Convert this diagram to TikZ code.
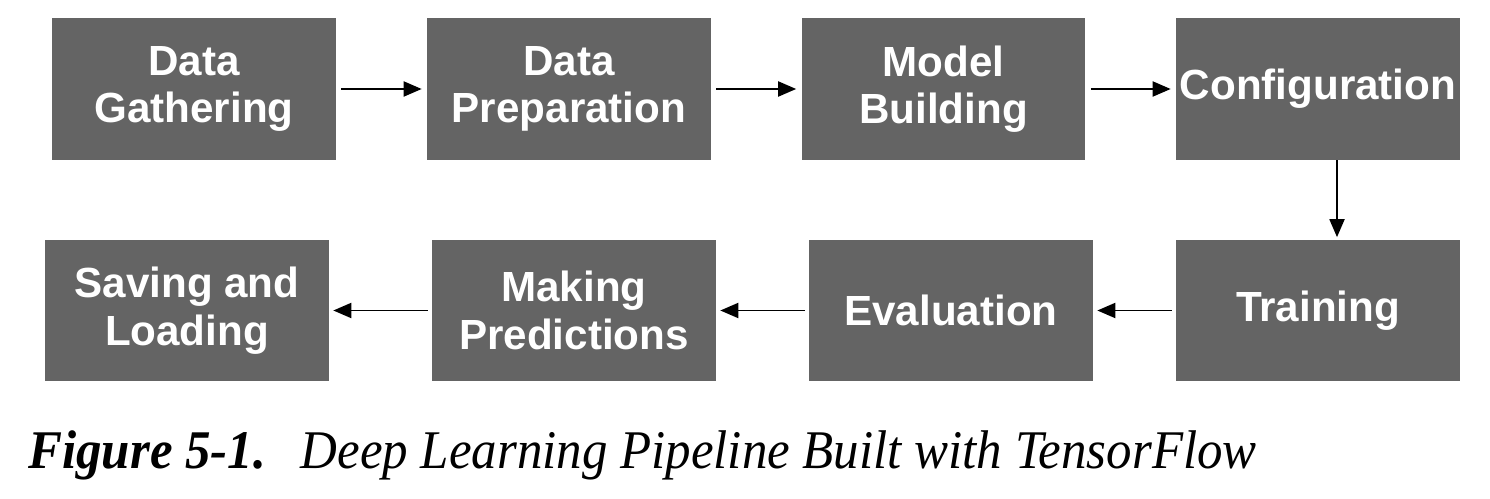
\documentclass[tikz,border=0pt]{standalone}
\usepackage{fontspec}
\setmainfont{Liberation Serif}
\newfontfamily\boxfont{Liberation Sans}
\usetikzlibrary{arrows.meta}
\definecolor{stepgray}{HTML}{646464}
\tikzset{
	stepbox/.style={fill=stepgray, draw=none, text=white, minimum width=5.68cm, minimum height=2.84cm, inner sep=0pt, align=center, font=\boxfont\bfseries\fontsize{24}{27}\selectfont},
	flow/.style={line width=1.1pt, -{Triangle[length=0.36cm, width=0.3cm]}, shorten <=0.1cm, shorten >=0.1cm}
}
\begin{document}
\begin{tikzpicture}[x=0.02cm, y=-0.02cm]
	\useasboundingbox (0,0) rectangle (1490,499);
	% top row
	\node[stepbox] (gather) at (194,89) {Data\\Gathering};
	\node[stepbox] (prep) at (569,89) {Data\\Preparation};
	\node[stepbox] (build) at (943.5,89) {Model\\Building};
	\node[stepbox] (config) at (1318,89) {Configuration};
	% bottom row
	\node[stepbox] (train) at (1318,310.5) {Training};
	\node[stepbox] (eval) at (951,310.5) {Evaluation};
	\node[stepbox] (predict) at (574,310.5) {Making\\Predictions};
	\node[stepbox] (save) at (187,310.5) {Saving and\\Loading};
	\draw[flow] (gather) -- (prep);
	\draw[flow] (prep) -- (build);
	\draw[flow] (build) -- (config);
	\draw[flow, shorten <=0pt, shorten >=0.04cm] ([xshift=0.38cm]config.south) -- ([xshift=0.38cm]train.north);
	\draw[flow, shorten <=0.08cm, shorten >=0.08cm] (train) -- (eval);
	\draw[flow, shorten <=0.08cm, shorten >=0.08cm] (eval) -- (predict);
	\draw[flow, shorten <=0.08cm, shorten >=0.08cm] (predict) -- (save);
	\node[anchor=base west, inner sep=0pt, xscale=0.935, font=\fontsize{31}{36}\selectfont\itshape] (caption) at (28,468) {\textbf{Figure 5-1.}\hspace{0.35em} Deep Learning Pipeline Built with TensorFlow};
\end{tikzpicture}
\end{document}
